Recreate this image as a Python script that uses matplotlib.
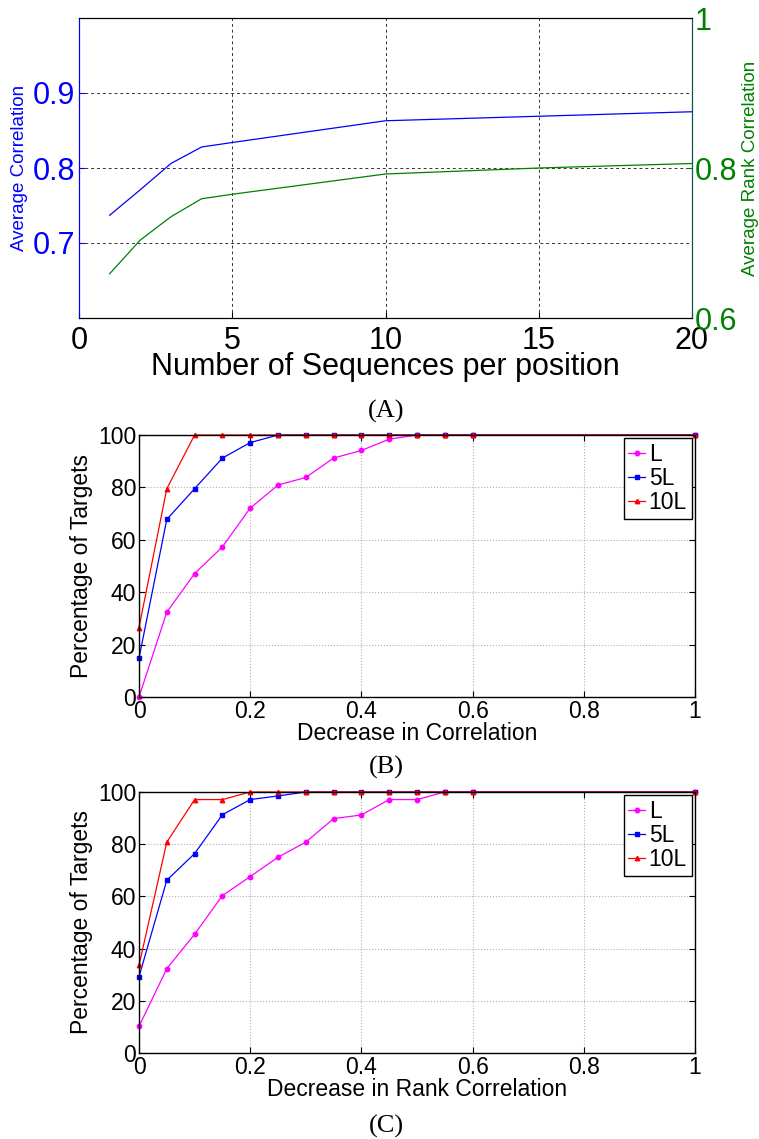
import matplotlib
matplotlib.use("Agg")
import matplotlib.pyplot as plt

plt.rcParams['font.family'] = ['Liberation Sans', 'DejaVu Sans']

# (A) average correlation vs. number of sequences per position
seq_counts = [1, 2, 3, 4, 5, 10, 15, 20]
avg_corr = [0.737, 0.771, 0.806, 0.828, 0.834, 0.863, 0.869, 0.875]
avg_rank_corr = [0.659, 0.704, 0.735, 0.759, 0.765, 0.792, 0.800, 0.806]

# (B)/(C) percentage of targets vs. decrease in correlation
decrease = [0, 0.05, 0.1, 0.15, 0.2, 0.25, 0.3, 0.35, 0.4, 0.45, 0.5, 0.55, 0.6, 1.0]
corr_L = [0, 32.4, 47.1, 57.3, 72.1, 80.9, 83.8, 91.2, 94.1, 98.4, 100, 100, 100, 100]
corr_5L = [14.8, 67.8, 79.5, 91.2, 97.1, 100, 100, 100, 100, 100, 100, 100, 100, 100]
corr_10L = [26.5, 79.5, 100, 100, 100, 100, 100, 100, 100, 100, 100, 100, 100, 100]

rank_L = [10.2, 32.3, 45.5, 60.3, 67.6, 75.0, 80.8, 89.8, 91.2, 97.1, 97.1, 100, 100, 100]
rank_5L = [29.2, 66.2, 76.4, 91.3, 97.1, 98.5, 100, 100, 100, 100, 100, 100, 100, 100]
rank_10L = [33.6, 80.8, 97.1, 97.1, 100, 100, 100, 100, 100, 100, 100, 100, 100, 100]

series_names = ['L', '5L', '10L']
series_colors = ['#ff00ff', '#0000ff', '#ff0000']
series_markers = ['o', 's', '^']

W, H = 759, 1139
fig = plt.figure(figsize=(W / 100, H / 100), dpi=100)


def box(left, top, right, bottom):
    return [left / W, 1 - bottom / H, (right - left) / W, (bottom - top) / H]


# ---- panel A ----
axA = fig.add_axes(box(79, 18, 692, 318))
axA.plot(seq_counts, avg_corr, color='#0000ff', lw=0.9)
axA.set_xlim(0, 20)
axA.set_ylim(0.6, 1.0)
axA.set_xticks([0, 5, 10, 15, 20])
axA.set_yticks([0.7, 0.8, 0.9])
axA.set_yticklabels(['0.7', '0.8', '0.9'])
axA.tick_params(axis='x', labelsize=22, direction='in', pad=6, length=4)
axA.tick_params(axis='y', labelsize=22, direction='in', colors='#0000ff', pad=3, length=4)
axA.grid(True, color='black', ls=(0, (3, 3)), lw=0.7, alpha=0.8)
axA.set_xlabel('Number of Sequences per position', fontsize=22)
axA.xaxis.set_label_coords(0.5, -0.115)
axA.set_ylabel('Average Correlation', fontsize=13.5, color='#0000ff')
axA.yaxis.set_label_coords(-0.083, 0.5)
axA.spines['left'].set_color('#0000ff')

axA2 = axA.twinx()
axA2.plot(seq_counts, avg_rank_corr, color='#008000', lw=0.9)
axA2.set_ylim(0.6, 1.0)
axA2.set_yticks([0.6, 0.8, 1.0])
axA2.set_yticklabels(['0.6', '0.8', '1'])
axA2.tick_params(axis='y', labelsize=22, direction='in', colors='#008000', pad=2, length=4)
axA2.set_ylabel('Average Rank Correlation', fontsize=13.5, color='#008000')
axA2.yaxis.set_label_coords(1.082, 0.5)
axA2.spines['right'].set_color('#0a5a50')
axA2.spines['left'].set_color('#0000ff')


# ---- panels B and C ----
def cdf_panel(ax, ys, xlabel):
    for y, name, c, m in zip(ys, series_names, series_colors, series_markers):
        ax.plot(decrease, y, color=c, marker=m, ms=3.2, lw=0.9, label=name,
                clip_on=False)
    ax.set_xlim(0, 1)
    ax.set_ylim(0, 100)
    ax.set_xticks([0, 0.2, 0.4, 0.6, 0.8, 1])
    ax.set_xticklabels(['0', '0.2', '0.4', '0.6', '0.8', '1'])
    ax.set_yticks([0, 20, 40, 60, 80, 100])
    ax.tick_params(labelsize=16.5, direction='in', top=True, right=True,
                   length=4, pad=2)
    ax.grid(True, color='#b0b0b0', ls=':', lw=0.8)
    ax.set_ylabel('Percentage of Targets', fontsize=16.5)
    ax.yaxis.set_label_coords(-0.083, 0.5)
    ax.set_xlabel(xlabel, fontsize=16.5)
    ax.xaxis.set_label_coords(0.5, -0.095)
    for s in ax.spines.values():
        s.set_linewidth(1.0)
    leg = ax.legend(loc='upper right', fontsize=16.5, handlelength=0.75,
                    handletextpad=0.15, labelspacing=0.05, borderpad=0.2,
                    borderaxespad=0.15, fancybox=False, framealpha=1)
    leg.get_frame().set_edgecolor('black')
    leg.get_frame().set_linewidth(1.0)


axB = fig.add_axes(box(139, 435, 695, 697))
cdf_panel(axB, [corr_L, corr_5L, corr_10L], 'Decrease in Correlation')

axC = fig.add_axes(box(139, 792, 695, 1053))
cdf_panel(axC, [rank_L, rank_5L, rank_10L], 'Decrease in Rank Correlation')

# captions
for label, y in [('(A)', 411), ('(B)', 767), ('(C)', 1126)]:
    fig.text(386 / W, 1 - y / H, label, ha='center', va='center',
             fontsize=19, family=['Liberation Serif', 'DejaVu Serif'])

fig.savefig('out.png', dpi=100)
